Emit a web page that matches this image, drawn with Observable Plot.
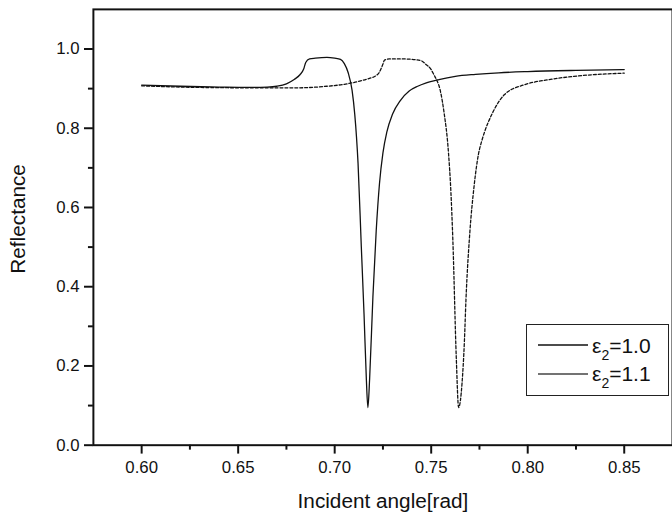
<!DOCTYPE html>
<html>
<head>
<meta charset="utf-8">
<script src="https://cdn.jsdelivr.net/npm/d3@7"></script>
<script src="https://cdn.jsdelivr.net/npm/@observablehq/plot@0.6"></script>
<style>
  html, body { margin: 0; padding: 0; background: white; }
  #wrap { position: relative; width: 672px; height: 520px; overflow: hidden; background: white; }
  #legend { position: absolute; left: 526px; top: 324px; width: 141px; height: 70px; border: 1px solid #222; background: white; }
</style>
</head>
<body>
<div id="wrap"><div id="chart"></div><div id="legend"></div></div>
<script>
// ε2 = 1.0 (solid)
const angle1 = [0.600, 0.620, 0.640, 0.655, 0.665, 0.670, 0.675, 0.679, 0.682, 0.684, 0.685, 0.687, 0.690, 0.696, 0.700, 0.703, 0.705, 0.707, 0.709, 0.7104, 0.7113, 0.7121, 0.7138, 0.7152, 0.7164, 0.7172, 0.7181, 0.7198, 0.7215, 0.7232, 0.7250, 0.727, 0.730, 0.734, 0.7386, 0.743, 0.7471, 0.754, 0.7625, 0.773, 0.785, 0.800, 0.825, 0.850];
const refl1  = [0.909, 0.906, 0.904, 0.903, 0.904, 0.906, 0.912, 0.923, 0.935, 0.950, 0.966, 0.975, 0.977, 0.979, 0.977, 0.974, 0.963, 0.940, 0.896, 0.835, 0.778, 0.712, 0.500, 0.332, 0.167, 0.095, 0.167, 0.374, 0.540, 0.660, 0.738, 0.790, 0.836, 0.870, 0.894, 0.906, 0.914, 0.923, 0.931, 0.936, 0.940, 0.943, 0.946, 0.948];
// ε2 = 1.1 (dashed)
const angle2 = [0.600, 0.630, 0.660, 0.680, 0.696, 0.705, 0.713, 0.718, 0.7215, 0.723, 0.724, 0.725, 0.7258, 0.7283, 0.735, 0.742, 0.745, 0.7471, 0.7500, 0.7514, 0.753, 0.754, 0.7565, 0.759, 0.7602, 0.7612, 0.763, 0.7642, 0.766, 0.7672, 0.768, 0.770, 0.7722, 0.7745, 0.7762, 0.7776, 0.7813, 0.788, 0.7984, 0.810, 0.824, 0.850];
const refl2  = [0.907, 0.903, 0.902, 0.902, 0.906, 0.911, 0.919, 0.926, 0.933, 0.940, 0.950, 0.962, 0.972, 0.975, 0.975, 0.973, 0.970, 0.962, 0.948, 0.935, 0.920, 0.908, 0.845, 0.735, 0.640, 0.520, 0.220, 0.095, 0.158, 0.262, 0.366, 0.536, 0.653, 0.735, 0.768, 0.790, 0.834, 0.885, 0.910, 0.922, 0.931, 0.939];

const xTicks = [0.60, 0.65, 0.70, 0.75, 0.80, 0.85];
const xMinor = [0.625, 0.675, 0.725, 0.775, 0.825];
const yTicks = [0.0, 0.2, 0.4, 0.6, 0.8, 1.0];
const yMinor = [0.1, 0.3, 0.5, 0.7, 0.9];
const seriesLabels = ["1.0", "1.1"];
const xTitle = "Incident angle[rad]";
const yTitle = "Reflectance";

const rows1 = angle1.map((a, i) => ({a, r: refl1[i]}));
const rows2 = angle2.map((a, i) => ({a, r: refl2[i]}));

const font = "'Liberation Sans', Arial, sans-serif";

const chart = Plot.plot({
  width: 680, height: 520,
  marginLeft: 94, marginRight: 0, marginTop: 9, marginBottom: 70,
  x: {domain: [0.575, 0.875]},
  y: {domain: [0, 1.1]},
  style: {fontFamily: font, color: "#111", background: "white", overflow: "visible"},
  marks: [
    Plot.axisX(xTicks, {tickSize: 9, tickPadding: 7, tickFormat: d3.format(".2f"), fontSize: 17, strokeWidth: 2, label: null}),
    Plot.axisX(xMinor, {tickSize: 5, tickFormat: () => "", strokeWidth: 2, label: null}),
    Plot.axisY(yTicks, {tickSize: 9, tickPadding: 5, tickFormat: d3.format(".1f"), fontSize: 17, strokeWidth: 2, label: null}),
    Plot.axisY(yMinor, {tickSize: 5, tickFormat: () => "", strokeWidth: 2, label: null}),
    Plot.frame({strokeWidth: 2, stroke: "#111"}),
    Plot.line(rows2, {x: "a", y: "r", curve: "monotone-x", stroke: "#111", strokeWidth: 1.3, strokeDasharray: "3,2"}),
    Plot.line(rows1, {x: "a", y: "r", curve: "monotone-x", stroke: "#111", strokeWidth: 1.3}),
    Plot.text([yTitle], {frameAnchor: "left", text: d => d, rotate: -90, dx: -76, dy: -8.5, fontSize: 21, textAnchor: "middle", lineAnchor: "middle", fill: "#111"}),
    Plot.text([xTitle], {frameAnchor: "bottom", text: d => d, dy: 49, fontSize: 21, textAnchor: "middle", lineAnchor: "top", fill: "#111"})
  ]
});
document.getElementById("chart").appendChild(chart);

// legend
const lg = d3.select("#legend").append("svg").attr("width", 141).attr("height", 70)
  .style("font-family", font);
const rowY = [20, 49];
const rowBase = [27.7, 56];
const lineColors = ["#111", "#444"];
seriesLabels.forEach((lab, i) => {
  lg.append("line").attr("x1", 11).attr("x2", 61).attr("y1", rowY[i]).attr("y2", rowY[i])
    .attr("stroke", lineColors[i]).attr("stroke-width", 1.3);
  const t = lg.append("text").attr("x", 65).attr("y", rowBase[i]).attr("fill", "#111").attr("font-size", 21);
  t.append("tspan").text("ε");
  t.append("tspan").attr("font-size", 14).attr("dy", 7).text("2");
  t.append("tspan").attr("dy", -7).text("=" + lab);
});
</script>
</body>
</html>
